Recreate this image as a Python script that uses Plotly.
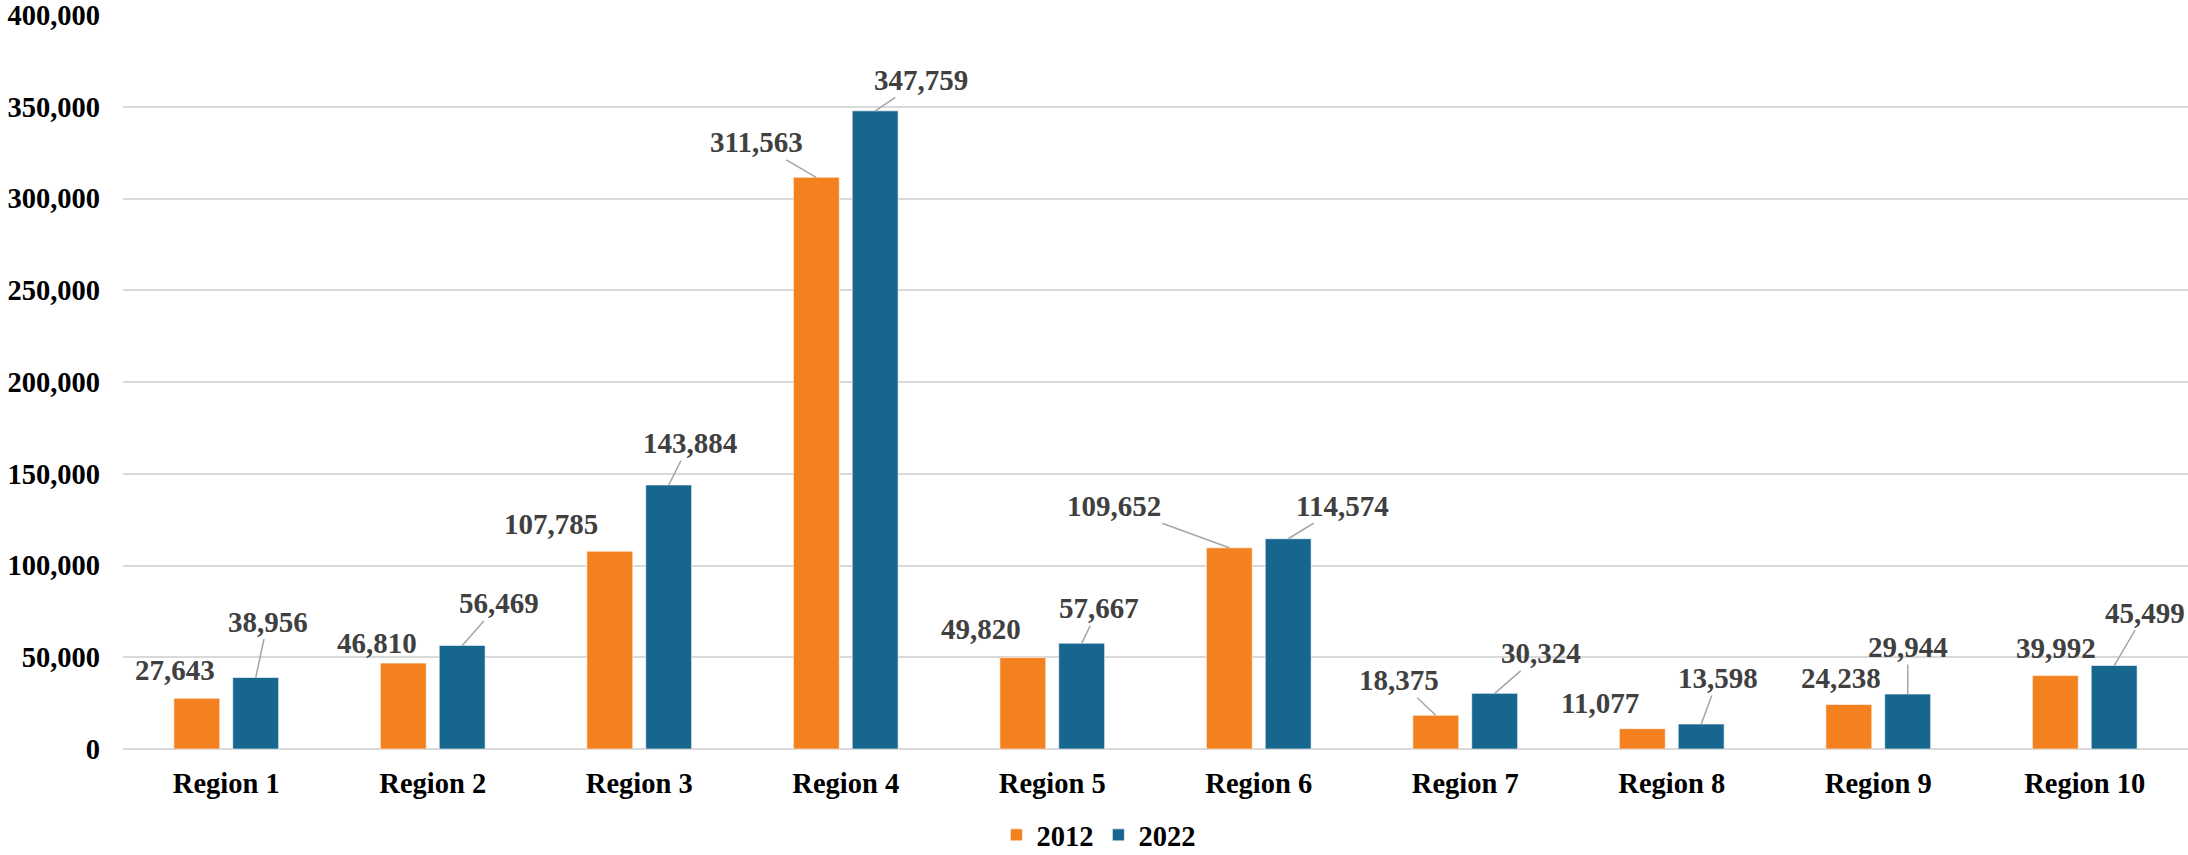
import plotly.graph_objects as go

regions = ["Region 1", "Region 2", "Region 3", "Region 4", "Region 5",
           "Region 6", "Region 7", "Region 8", "Region 9", "Region 10"]
values_2012 = [27643, 46810, 107785, 311563, 49820, 109652, 18375, 11077, 24238, 39992]
values_2022 = [38956, 56469, 143884, 347759, 57667, 114574, 30324, 13598, 29944, 45499]
y_ticks = [0, 50000, 100000, 150000, 200000, 250000, 300000, 350000, 400000]

# label offsets (pixels) from bar top to label centre, and whether a leader line is shown
off_2012 = [(-22, -28, False), (-26, -20, False), (-59, -27, False), (-60, -35, True),
            (-42, -29, False), (-115, -42, True), (-37, -35, True), (-42, -26, False),
            (-8, -27, False), (1, -28, False)]
off_2022 = [(12, -56, True), (37, -42, True), (21, -42, True), (46, -31, True),
            (17, -35, True), (54, -33, True), (46, -40, True), (17, -46, True),
            (0, -47, True), (31, -53, True)]

ORANGE = "#F48120"
BLUE = "#17668F"
FONT = "Liberation Serif"

fig = go.Figure()
fig.add_trace(go.Bar(name="2012", x=regions, y=values_2012, marker_color=ORANGE,
                     marker_line=dict(color="rgba(255,255,255,0.6)", width=1)))
fig.add_trace(go.Bar(name="2022", x=regions, y=values_2022, marker_color=BLUE,
                     marker_line=dict(color="rgba(255,255,255,0.6)", width=1)))

BAR_SHIFT = 29.5
annotations = []
for vals, offs, shift in ((values_2012, off_2012, -BAR_SHIFT), (values_2022, off_2022, BAR_SHIFT)):
    for r, v, (ax, ay, line) in zip(regions, vals, offs):
        annotations.append(dict(
            x=r, y=v, xref="x", yref="y", xshift=shift,
            text=f"<b>{v:,}</b>", showarrow=True, arrowhead=0, arrowwidth=1.5,
            arrowcolor="#A6A6A6" if line else "rgba(0,0,0,0)",
            ax=ax, ay=ay, standoff=0, startstandoff=0,
            font=dict(family=FONT, size=29, color="#404040"),
        ))

fig.update_layout(
    width=2188, height=855,
    margin=dict(l=123, r=0, t=12, b=106),
    paper_bgcolor="white", plot_bgcolor="white",
    barmode="group", bargap=0.43, bargroupgap=0.22,
    font=dict(family=FONT, size=28.5, color="black"),
    annotations=annotations,
    showlegend=True,
    legend=dict(orientation="h", xref="container", yref="container",
                x=0.502, y=0.023, xanchor="center", yanchor="middle",
                font=dict(family=FONT, size=28.5, color="black", weight="bold"),
                itemwidth=30, tracegroupgap=0),
)
fig.update_xaxes(showgrid=False, showline=False, ticks="",
                 tickfont=dict(family=FONT, size=28.5, color="black", weight="bold"),
                 ticklabelstandoff=14)
fig.update_yaxes(range=[0, 400000], tickvals=y_ticks, tickformat=",",
                 showgrid=True, gridcolor="#D9D9D9", gridwidth=2,
                 zeroline=True, zerolinecolor="#D9D9D9", zerolinewidth=2,
                 ticks="", tickfont=dict(family=FONT, size=28.5, color="black", weight="bold"),
                 ticklabelstandoff=22, ticklabeloverflow="allow")

fig.write_html("out.html", config={"displayModeBar": False},
               post_script="document.body.style.margin='0';document.body.style.overflow='hidden';")
